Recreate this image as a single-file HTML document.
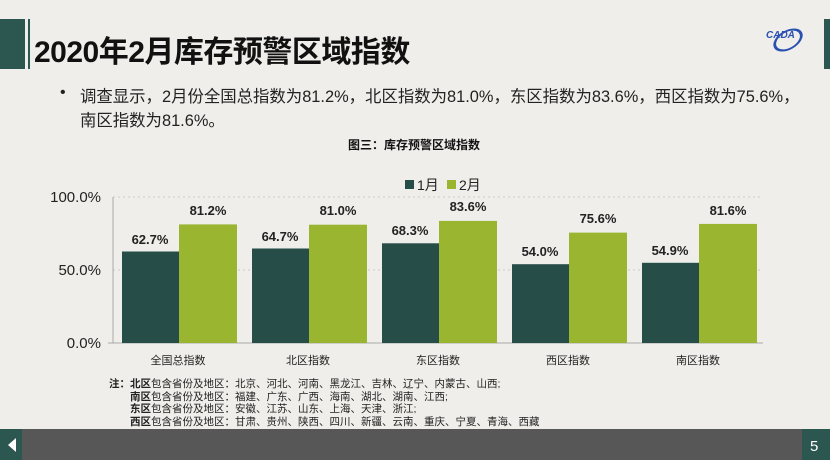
<!DOCTYPE html>
<html><head><meta charset="utf-8"><style>
body{margin:0;width:830px;height:460px;overflow:hidden;background:#efeeeb;font-family:"Liberation Sans","Noto Sans CJK SC",sans-serif;position:relative}
.a{position:absolute;white-space:nowrap}
</style></head><body>
<div class="a" style="left:0;top:19px;width:25px;height:50px;background:#2c5650"></div>
<div class="a" style="left:28px;top:19px;width:2px;height:50px;background:#2c5650"></div>
<div class="a" style="left:824px;top:19px;width:6px;height:50px;background:#2c5650"></div>
<div class="a" style="left:34px;top:27px;font-size:30px;font-weight:bold;color:#111;letter-spacing:-0.5px">2020年2月库存预警区域指数</div>
<div class="a" style="left:766px;top:30px;font-size:10px;font-style:italic;font-weight:bold;color:#2a50b0">CADA</div>
<div class="a" style="left:772px;top:24px;width:26px;height:26px;border:3px solid #2a50b0;border-radius:50%;transform:rotate(-30deg) scaleY(.6)"></div>
<div class="a" style="left:60px;top:84px;font-size:16px;color:#222">•</div>
<div class="a" style="left:80px;top:83px;font-size:16.4px;color:#222">调查显示，2月份全国总指数为81.2%，北区指数为81.0%，东区指数为83.6%，西区指数为75.6%，</div>
<div class="a" style="left:80px;top:107px;font-size:16.4px;color:#222">南区指数为81.6%。</div>
<div class="a" style="left:348px;top:136px;font-size:12px;font-weight:bold;color:#111">图三：库存预警区域指数</div>
<svg class="a" style="left:0;top:0" width="830" height="460">
<g font-family="Liberation Sans,Noto Sans CJK SC,sans-serif">
<line x1="113" y1="197" x2="763" y2="197" stroke="#ccc" stroke-dasharray="2,3"/>
<line x1="113" y1="270" x2="763" y2="270" stroke="#ccc" stroke-dasharray="2,3"/>
<line x1="113" y1="197" x2="113" y2="343" stroke="#aaa"/>
<line x1="108" y1="343" x2="763" y2="343" stroke="#aaa"/>
<g font-size="15" fill="#222" text-anchor="end">
<text x="101" y="202">100.0%</text><text x="101" y="275">50.0%</text><text x="101" y="348">0.0%</text></g>
<rect x="405" y="180" width="9" height="9" fill="#264d47"/><text x="417" y="190" font-size="14" fill="#222">1月</text>
<rect x="447" y="180" width="9" height="9" fill="#9ab631"/><text x="459" y="190" font-size="14" fill="#222">2月</text>
<g font-size="13" font-weight="bold" fill="#222" text-anchor="middle">
<rect x="122" y="251.5" width="57" height="91.5" fill="#264d47"/><rect x="179" y="224.4" width="58" height="118.6" fill="#9ab631"/>
<text x="150" y="244">62.7%</text><text x="208" y="215">81.2%</text>
<rect x="252" y="248.5" width="57" height="94.5" fill="#264d47"/><rect x="309" y="224.7" width="58" height="118.3" fill="#9ab631"/>
<text x="280" y="241">64.7%</text><text x="338" y="215">81.0%</text>
<rect x="382" y="243.3" width="57" height="99.7" fill="#264d47"/><rect x="439" y="220.9" width="58" height="122.1" fill="#9ab631"/>
<text x="410" y="235">68.3%</text><text x="468" y="211">83.6%</text>
<rect x="512" y="264.2" width="57" height="78.8" fill="#264d47"/><rect x="569" y="232.6" width="58" height="110.4" fill="#9ab631"/>
<text x="540" y="256">54.0%</text><text x="598" y="223">75.6%</text>
<rect x="642" y="262.8" width="57" height="80.2" fill="#264d47"/><rect x="699" y="223.9" width="58" height="119.1" fill="#9ab631"/>
<text x="670" y="255">54.9%</text><text x="728" y="215">81.6%</text>
</g>
<g font-size="11" fill="#222" text-anchor="middle">
<text x="178" y="364">全国总指数</text><text x="308" y="364">北区指数</text><text x="438" y="364">东区指数</text><text x="568" y="364">西区指数</text><text x="698" y="364">南区指数</text></g>
</g></svg>
<div class="a" style="left:109px;top:378px;font-size:10.5px;line-height:12.5px;color:#222"><b>注：</b><b>北区</b>包含省份及地区：北京、河北、河南、黑龙江、吉林、辽宁、内蒙古、山西;<br>
<span style="padding-left:21px"><b>南区</b>包含省份及地区：福建、广东、广西、海南、湖北、湖南、江西;</span><br>
<span style="padding-left:21px"><b>东区</b>包含省份及地区：安徽、江苏、山东、上海、天津、浙江;</span><br>
<span style="padding-left:21px"><b>西区</b>包含省份及地区：甘肃、贵州、陕西、四川、新疆、云南、重庆、宁夏、青海、西藏</span></div>
<div class="a" style="left:0;top:429px;width:830px;height:31px;background:#575757"></div>
<div class="a" style="left:0;top:429px;width:22px;height:31px;background:#2c5650"></div>
<div class="a" style="left:8px;top:438px;width:0;height:0;border-top:7px solid transparent;border-bottom:7px solid transparent;border-right:8px solid #fff"></div>
<div class="a" style="left:802px;top:429px;width:28px;height:31px;background:#2c5650"></div>
<div class="a" style="left:810px;top:438px;font-size:15px;color:#fff">5</div>
</body></html>
